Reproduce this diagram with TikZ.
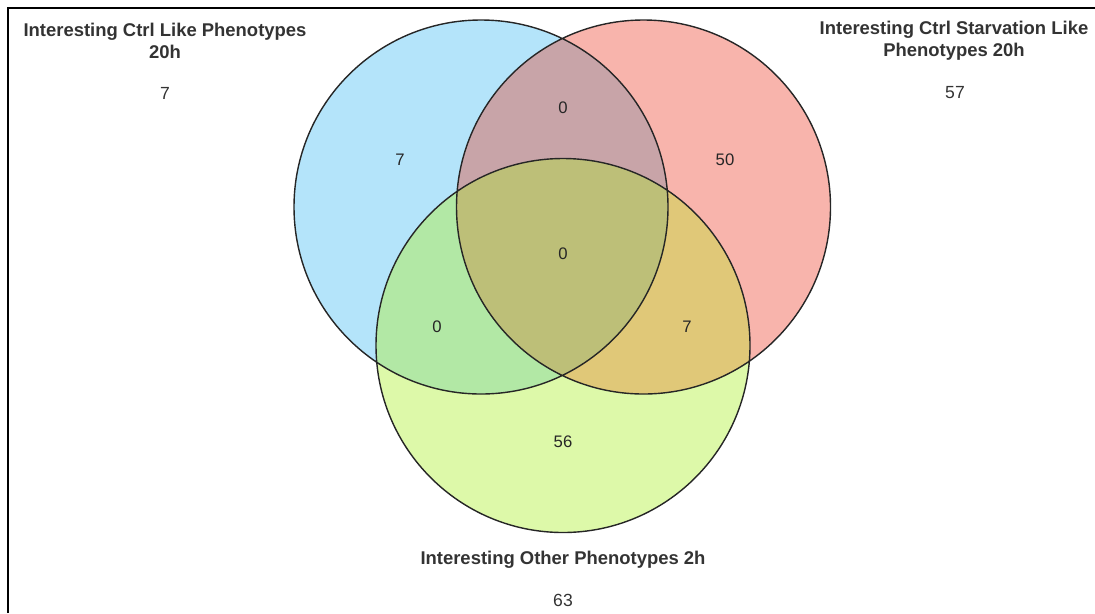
\documentclass[tikz,border=0pt]{standalone}
\usepackage{fontspec}
\setmainfont{Liberation Sans}
\usepackage{tikz}

\definecolor{ctrlblue}{HTML}{B4E4FA}
\definecolor{starvred}{HTML}{F8B4AC}
\definecolor{othergreen}{HTML}{DDF9A9}
\definecolor{ctrlstarv}{HTML}{C8A4A8}
\definecolor{ctrlother}{HTML}{B2E8A5}
\definecolor{starvother}{HTML}{E0C878}
\definecolor{allthree}{HTML}{BDBF78}
\definecolor{textgray}{HTML}{333333}

\tikzset{
  setline/.style={draw=black!85,line width=0.8pt},
  settitle/.style={font=\fontsize{10.5}{12.5}\selectfont\bfseries,text=textgray,align=center,inner sep=0},
  setcount/.style={font=\fontsize{10}{12}\selectfont,text=textgray,inner sep=0},
  regcount/.style={font=\fontsize{9.5}{11}\selectfont,text=black!85,inner sep=0}
}

\begin{document}
\begin{tikzpicture}[x=0.02cm,y=-0.02cm]
        \useasboundingbox (0,0) rectangle (1095,613);
        \coordinate (ctrl) at (481,207);
        \coordinate (starv) at (643.5,207);
        \coordinate (other) at (563,345.5);
        % plain sets
        \fill[ctrlblue] (ctrl) circle[radius=187];
        \fill[starvred] (starv) circle[radius=187];
        \fill[othergreen] (other) circle[radius=187];
        % overlaps
        \begin{scope}
          \clip (ctrl) circle[radius=187];
          \fill[ctrlstarv] (starv) circle[radius=187];
          \fill[ctrlother] (other) circle[radius=187];
        \end{scope}
        \begin{scope}
          \clip (starv) circle[radius=187];
          \fill[starvother] (other) circle[radius=187];
          \clip (ctrl) circle[radius=187];
          \fill[allthree] (other) circle[radius=187];
        \end{scope}
        \draw[setline] (ctrl) circle[radius=187] (starv) circle[radius=187] (other) circle[radius=187];
        % set names and totals
        \node[settitle] (ctrlname) at (165,41) {Interesting Ctrl Like Phenotypes\\20h};
        \node[setcount] (ctrltotal) at (165,93) {7};
        \node[settitle] (starvname) at (954,41) {Interesting Ctrl Starvation Like\\Phenotypes 20h};
        \node[setcount] (starvtotal) at (955,93) {57};
        \node[settitle] (othername) at (563,560) {Interesting Other Phenotypes 2h};
        \node[setcount] (othertotal) at (563,600) {63};
        % region counts
        \node[regcount] (onlyctrl) at (400,160) {7};
        \node[regcount] (ctrlandstarv) at (563,108) {0};
        \node[regcount] (onlystarv) at (725,160) {50};
        \node[regcount] (center) at (563,254) {0};
        \node[regcount] (ctrlandother) at (437,327) {0};
        \node[regcount] (starvandother) at (687,327) {7};
        \node[regcount] (onlyother) at (563,442) {56};
        % frame
        \draw[line width=1.1pt] (8,613) -- (8,8) -- (1095,8);
      \end{tikzpicture}
\end{document}
